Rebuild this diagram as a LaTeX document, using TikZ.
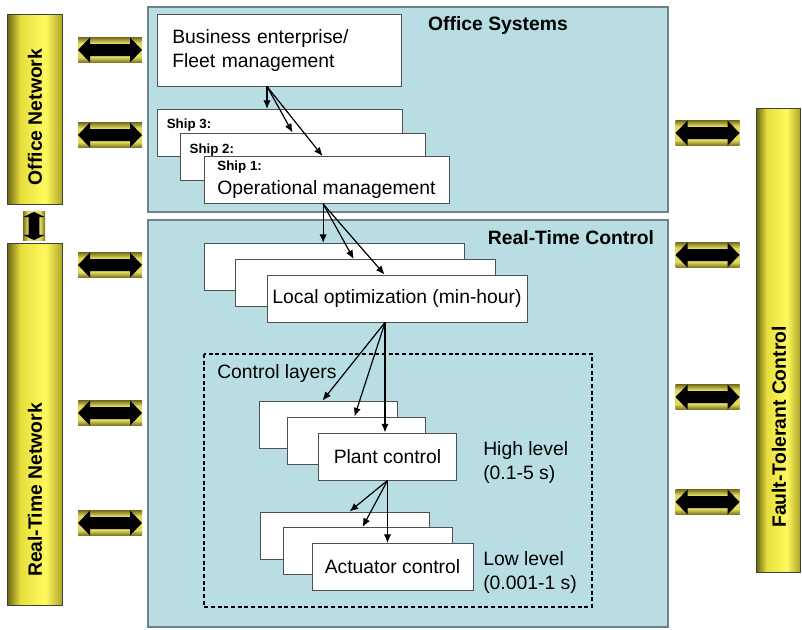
\documentclass[tikz,border=0pt]{standalone}
\usepackage{fontspec}
\setmainfont{Liberation Sans}
\usepackage{tikz}
\usepackage{xcolor}
\usetikzlibrary{arrows.meta}

\definecolor{panelblue}{RGB}{184,222,228}
\definecolor{panelline}{RGB}{110,130,135}
\definecolor{boxline}{RGB}{80,80,80}
\definecolor{barlight}{RGB}{255,250,95}
\definecolor{baryellow}{RGB}{230,222,60}
\definecolor{bardark}{RGB}{105,98,20}
\definecolor{baredge}{RGB}{175,165,40}
\definecolor{linkyellow}{RGB}{225,218,95}
\definecolor{linkdark}{RGB}{120,112,30}

\pgfdeclarehorizontalshading{bar}{100bp}{color(0bp)=(bardark); color(25bp)=(bardark);
  color(37bp)=(baryellow); color(60bp)=(barlight); color(75bp)=(baredge); color(100bp)=(baredge)}
\pgfdeclareverticalshading{link}{100bp}{color(0bp)=(linkdark); color(25bp)=(linkdark);
  color(36bp)=(linkyellow); color(64bp)=(linkyellow); color(75bp)=(linkdark); color(100bp)=(linkdark)}
\pgfdeclarehorizontalshading{link across}{100bp}{color(0bp)=(linkdark); color(25bp)=(linkdark);
  color(36bp)=(linkyellow); color(64bp)=(linkyellow); color(75bp)=(linkdark); color(100bp)=(linkdark)}

% yellow link with a black double arrow, centred at (#2,#3)
\newcommand{\netlink}[3][]{%
  \begin{scope}[shift={(#2,#3)},#1]
    \shade[link shade] (-32,-12.5) rectangle (32,12.5);
    \fill (-32,0) -- (-20,-12.5) -- (-20,-6) -- (20,-6) -- (20,-12.5) -- (32,0)
      -- (20,12.5) -- (20,6) -- (-20,6) -- (-20,12.5) -- cycle;
  \end{scope}}

\begin{document}
\begin{tikzpicture}%
  [x=0.75pt,y=-0.75pt,font=\fontsize{14.5}{18}\selectfont]
  \tikzstyle{link shade}=[shading=link]
  \tikzstyle{bar}=[shading=bar,draw=black!75,line width=0.6pt]
  \tikzstyle{bar text}=[rotate=90,font=\fontsize{14.5}{18}\selectfont\bfseries]
  \tikzstyle{panel}=[fill=panelblue,draw=panelline,line width=0.8pt]
  \tikzstyle{title}=[font=\fontsize{14.5}{18}\selectfont\bfseries]
  \tikzstyle{box node}=[rectangle,draw=boxline,fill=white,line width=0.7pt,inner sep=0]
  \tikzstyle{ship node}=[box node,minimum width=183.75pt,minimum height=35.25pt]
  \tikzstyle{opt node}=[box node,minimum width=195pt,minimum height=35.25pt]
  \tikzstyle{plant node}=[box node,minimum width=103.5pt,minimum height=35.25pt]
  \tikzstyle{act node}=[box node,minimum width=126.75pt,minimum height=35.25pt]
  \tikzstyle{ship label}=[anchor=north west,inner sep=0,font=\fontsize{10}{12}\selectfont\bfseries]
  \tikzstyle{flow line}=[-{Latex[length=6.5pt,width=5.5pt]},line width=0.9pt]
  \useasboundingbox (0,0) rectangle (802,629);

  % networks
  \shade[bar] (7,14) rectangle (62,204);
  \shade[bar] (7,243) rectangle (62,605);
  \shade[bar] (756,108) rectangle (800,572);
  \node[bar text] (officenet) at (35,117) {Office Network};
  \node[bar text] (rtnet) at (35,490) {Real-Time Network};
  \node[bar text] (ftc) at (779,427) {Fault-Tolerant Control};
  \foreach \y in {50,135,265,413,523} {\netlink{110}{\y}}
  \foreach \y in {133,255,397,502} {\netlink{707.5}{\y}}
  \netlink[rotate=90,xscale=.44,yscale=.88,link shade/.style={shading=link across}]{34}{226}

  % office systems
  \draw[panel] (148,7) rectangle (668,212);
  \node[title] (office) at (498,25) {Office Systems};
  \node[box node,minimum width=183pt,minimum height=54pt,align=left,text width=160pt]
    (biz) at (279,50) {Business enterprise/\\Fleet management};
  \node[ship node,label={[ship label,xshift=7.5pt,yshift=-7pt]north west:Ship 3:}] (ship3) at (279.5,133) {};
  \node[ship node,label={[ship label,xshift=7pt,yshift=-8pt]north west:Ship 2:}] (ship2) at (303,156.5) {};
  \node[ship node,align=left] (ship1) at (326.5,180)
    {{\fontsize{10}{12}\selectfont\bfseries Ship 1:}\\Operational management};
  \coordinate (bizout) at ([xshift=-9pt]biz.south);
  \draw[flow line] (bizout) -- (bizout |- ship3.north);
  \draw[flow line] (bizout) -- ([xshift=84.4pt]ship2.north west);
  \draw[flow line] (bizout) -- ([xshift=89.25pt]ship1.north west);

  % real-time control
  \draw[panel] (148,220) rectangle (668,627);
  \node[title] (rtc) at (571,238) {Real-Time Control};
  \node[opt node] (opt3) at (334,267) {};
  \node[opt node] (opt2) at (365.5,283) {};
  \node[opt node] (opt1) at (397,298.5) {Local optimization (min-hour)};
  \coordinate (shipout) at ([xshift=-2.5pt]ship1.south);
  \draw[flow line] (shipout) -- (shipout |- opt3.north);
  \draw[flow line] (shipout) -- ([xshift=89pt]opt2.north west);
  \draw[flow line] (shipout) -- ([xshift=88.5pt]opt1.north west);

  \draw[dashed,line width=0.8pt,dash pattern=on 3pt off 2pt] (204,354) rectangle (592,607);
  \node[anchor=west,inner sep=0] (layers) at (217,373) {Control layers};
  \node[plant node] (plant3) at (328,424.5) {};
  \node[plant node] (plant2) at (356.5,440.5) {};
  \node[plant node] (plant1) at (387.5,456.5) {Plant control};
  \node[anchor=west,align=left,inner sep=0] (high) at (483,462) {High level\\(0.1-5 s)};
  \coordinate (optout) at ([xshift=-9pt]opt1.south);
  \draw[flow line] (optout) -- ([xshift=48pt]plant3.north west);
  \draw[flow line] (optout) -- ([xshift=50.6pt]plant2.north west);
  \draw[flow line] (optout) -- (optout |- plant1.north);

  \node[act node] (act3) at (344.5,535.5) {};
  \node[act node] (act2) at (367.5,551) {};
  \node[act node,minimum width=120.75pt] (act1) at (392.5,567) {Actuator control};
  \node[anchor=west,align=left,inner sep=0] (low) at (483,572) {Low level\\(0.001-1 s)};
  \draw[flow line] (plant1.south) -- ([xshift=67.5pt]act3.north west);
  \draw[flow line] (plant1.south) -- ([xshift=60pt]act2.north west);
  \draw[flow line] (plant1.south) -- (plant1.south |- act1.north);
\end{tikzpicture}
\end{document}
